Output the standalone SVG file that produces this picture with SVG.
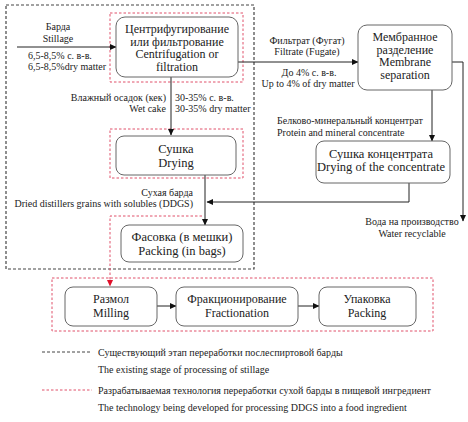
<svg xmlns="http://www.w3.org/2000/svg" width="468" height="422" viewBox="0 0 468 422">
<defs>
<marker id="ah" markerWidth="7" markerHeight="7" refX="6" refY="3.5" orient="auto" markerUnits="userSpaceOnUse">
<path d="M0,0.5 L6.5,3.5 L0,6.5 Z" fill="#111"/>
</marker>
<marker id="ahr" markerWidth="7" markerHeight="7" refX="6" refY="3.5" orient="auto" markerUnits="userSpaceOnUse">
<path d="M0,0.5 L6.5,3.5 L0,6.5 Z" fill="#e0102a"/>
</marker>
</defs>
<rect width="468" height="422" fill="#fff"/>

<g id="frames" fill="none">
<rect x="6" y="5" width="248" height="264" stroke="#444" stroke-width="1.2" stroke-dasharray="3 2"/>
<rect x="110" y="13" width="133" height="69" stroke="#e0506a" stroke-dasharray="2.5 2"/>
<rect x="110" y="129" width="133" height="49" stroke="#e0506a" stroke-dasharray="2.5 2"/>
<rect x="52" y="278" width="381" height="53" stroke="#e0506a" stroke-dasharray="2.5 2"/>
</g>

<g id="connectors" fill="none" stroke="#222" stroke-width="1">
<line x1="17" y1="47" x2="116" y2="47" marker-end="url(#ah)"/>
<line x1="171" y1="77" x2="171" y2="135" marker-end="url(#ah)"/>
<line x1="238" y1="62" x2="358" y2="62" marker-end="url(#ah)"/>
<polyline points="452,62 463,62 463,221" marker-end="url(#ah)"/>
<line x1="432" y1="90" x2="432" y2="141" marker-end="url(#ah)"/>
<polyline points="409,183 409,202 207,202" marker-end="url(#ah)"/>
<line x1="205" y1="175" x2="205" y2="225" marker-end="url(#ah)"/>
<polyline points="202,216 110,216 110,286" stroke="#e0506a" stroke-dasharray="2.5 2" marker-end="url(#ahr)"/>
<line x1="157" y1="306" x2="176" y2="306" marker-end="url(#ah)"/>
<line x1="298" y1="306" x2="319" y2="306" marker-end="url(#ah)"/>
</g>

<g id="labels" fill="#222">
<text x="58" y="30" font-family="Liberation Serif" font-size="10" text-anchor="middle">Барда</text>
<text x="58" y="42" font-family="Liberation Serif" font-size="10" text-anchor="middle">Stillage</text>
<text x="28" y="59" font-family="Liberation Serif" font-size="10">6,5-8,5% с. в-в.</text>
<text x="28" y="70" font-family="Liberation Serif" font-size="10">6,5-8,5%dry matter</text>
<text x="166" y="100.5" font-family="Liberation Serif" font-size="10" text-anchor="end">Влажный осадок (кек)</text>
<text x="166" y="111.5" font-family="Liberation Serif" font-size="10" text-anchor="end">Wet cake</text>
<text x="175" y="100.5" font-family="Liberation Serif" font-size="10">30-35% с. в-в.</text>
<text x="175" y="111.5" font-family="Liberation Serif" font-size="10">30-35% dry matter</text>
<text x="307" y="43.5" font-family="Liberation Serif" font-size="10" text-anchor="middle">Фильтрат (Фугат)</text>
<text x="307" y="55" font-family="Liberation Serif" font-size="10" text-anchor="middle">Filtrate (Fugate)</text>
<text x="309" y="76" font-family="Liberation Serif" font-size="10" text-anchor="middle">До 4% с. в-в.</text>
<text x="308" y="87" font-family="Liberation Serif" font-size="10" text-anchor="middle">Up to 4% of dry matter</text>
<text x="277" y="124" font-family="Liberation Serif" font-size="10">Белково-минеральный концентрат</text>
<text x="277" y="136" font-family="Liberation Serif" font-size="10">Protein and mineral concentrate</text>
<text x="412" y="225" font-family="Liberation Serif" font-size="10" text-anchor="middle">Вода на производство</text>
<text x="412" y="237" font-family="Liberation Serif" font-size="10" text-anchor="middle">Water recyclable</text>
<text x="193" y="196" font-family="Liberation Serif" font-size="10" text-anchor="end">Сухая барда</text>
<text x="193" y="207" font-family="Liberation Serif" font-size="10" text-anchor="end">Dried distillers grains with solubles (DDGS)</text>
</g>

<g id="centrifuge">
<rect x="116" y="17" width="122" height="60" rx="9" fill="#fff" stroke="#666"/>
<text x="177" y="33" font-family="Liberation Serif" font-size="12" text-anchor="middle" fill="#222">Центрифугирование</text>
<text x="177" y="45.5" font-family="Liberation Serif" font-size="12" text-anchor="middle" fill="#222">или фильтрование</text>
<text x="177" y="58" font-family="Liberation Serif" font-size="12" text-anchor="middle" fill="#222">Centrifugation or</text>
<text x="177" y="70.5" font-family="Liberation Serif" font-size="12" text-anchor="middle" fill="#222">filtration</text>
</g>
<g id="membrane">
<rect x="358" y="25" width="94" height="65" rx="9" fill="#fff" stroke="#666"/>
<text x="405" y="41" font-family="Liberation Serif" font-size="12" text-anchor="middle" fill="#222">Мембранное</text>
<text x="405" y="53.5" font-family="Liberation Serif" font-size="12" text-anchor="middle" fill="#222">разделение</text>
<text x="405" y="66" font-family="Liberation Serif" font-size="12" text-anchor="middle" fill="#222">Membrane</text>
<text x="405" y="78.5" font-family="Liberation Serif" font-size="12" text-anchor="middle" fill="#222">separation</text>
</g>
<g id="drying">
<rect x="116" y="136" width="120" height="39" rx="8" fill="#fff" stroke="#666"/>
<text x="176" y="153" font-family="Liberation Serif" font-size="12.5" text-anchor="middle" fill="#222">Сушка</text>
<text x="176" y="166.5" font-family="Liberation Serif" font-size="12.5" text-anchor="middle" fill="#222">Drying</text>
</g>
<g id="drying-concentrate">
<rect x="316" y="141" width="134" height="42" rx="8" fill="#fff" stroke="#666"/>
<text x="381" y="157.5" font-family="Liberation Serif" font-size="12.5" text-anchor="middle" fill="#222">Сушка концентрата</text>
<text x="381" y="170.5" font-family="Liberation Serif" font-size="12.5" text-anchor="middle" fill="#222">Drying of the concentrate</text>
</g>
<g id="packing-bags">
<rect x="121" y="225" width="122" height="37" rx="8" fill="#fff" stroke="#666"/>
<text x="182" y="241" font-family="Liberation Serif" font-size="12.5" text-anchor="middle" fill="#222">Фасовка (в мешки)</text>
<text x="182" y="254.5" font-family="Liberation Serif" font-size="12.5" text-anchor="middle" fill="#222">Packing (in bags)</text>
</g>
<g id="milling">
<rect x="65" y="287" width="92" height="39" rx="8" fill="#fff" stroke="#666"/>
<text x="111" y="303" font-family="Liberation Serif" font-size="12" text-anchor="middle" fill="#222">Размол</text>
<text x="111" y="316.5" font-family="Liberation Serif" font-size="12" text-anchor="middle" fill="#222">Milling</text>
</g>
<g id="fractionation">
<rect x="176" y="287" width="122" height="39" rx="8" fill="#fff" stroke="#666"/>
<text x="237" y="303" font-family="Liberation Serif" font-size="12" text-anchor="middle" fill="#222">Фракционирование</text>
<text x="237" y="316.5" font-family="Liberation Serif" font-size="12" text-anchor="middle" fill="#222">Fractionation</text>
</g>
<g id="packing">
<rect x="319" y="287" width="97" height="39" rx="8" fill="#fff" stroke="#666"/>
<text x="367" y="303" font-family="Liberation Serif" font-size="12" text-anchor="middle" fill="#222">Упаковка</text>
<text x="367" y="316.5" font-family="Liberation Serif" font-size="12" text-anchor="middle" fill="#222">Packing</text>
</g>

<g id="legend" fill="#222">
<line x1="42" y1="352" x2="92" y2="352" stroke="#444" stroke-dasharray="3 2"/>
<text x="98" y="356" font-family="Liberation Serif" font-size="10">Существующий  этап переработки послеспиртовой барды</text>
<text x="98" y="373" font-family="Liberation Serif" font-size="10">The existing stage of processing of stillage</text>
<line x1="42" y1="390" x2="92" y2="390" stroke="#e0506a" stroke-dasharray="2.5 2"/>
<text x="98" y="394" font-family="Liberation Serif" font-size="10">Разрабатываемая  технология переработки сухой барды в пищевой ингредиент</text>
<text x="98" y="411" font-family="Liberation Serif" font-size="10">The technology being developed for processing DDGS into a food ingredient</text>
</g>
</svg>
